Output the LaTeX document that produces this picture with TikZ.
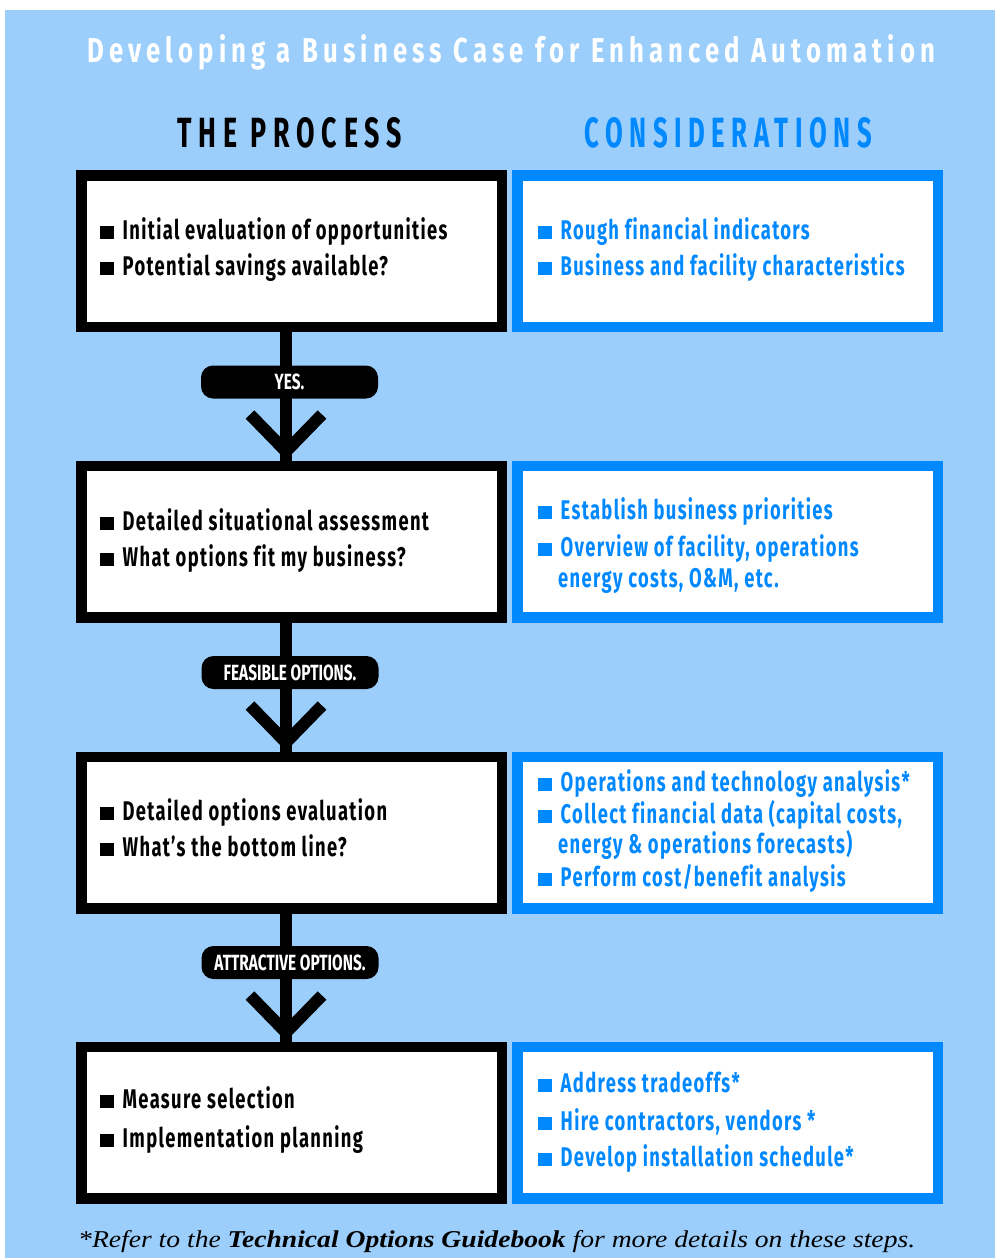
\documentclass[tikz,border=0pt]{standalone}
\usepackage{fontspec}
\usepackage{graphicx}
\usetikzlibrary{calc}
\newfontfamily\boxf[FakeStretch=0.68,LetterSpace=5,Ligatures=NoCommon]{Fira Sans}
\newfontfamily\headf[FakeStretch=0.7,LetterSpace=18]{Fira Sans}
\newfontfamily\titlef[FakeStretch=0.7,LetterSpace=14]{Fira Sans}
\newfontfamily\pillf[FakeStretch=0.7,Ligatures=NoCommon]{Fira Sans}
\newfontfamily\footf{Liberation Serif}
\definecolor{bgblue}{RGB}{156,206,252}
\definecolor{cblue}{RGB}{0,136,255}
\newcommand{\bul}{\rule{13.5pt}{13.5pt}\hspace{9pt}}
\tikzset{
  procbox/.style={draw=black, line width=10.5pt, fill=white, minimum width=420.5pt, minimum height=151.5pt, inner sep=0pt},
  consbox/.style={procbox, draw=cblue},
  ptext/.style={anchor=base west, inner sep=0pt, text=black, font=\boxf\bfseries\fontsize{27pt}{30pt}\selectfont},
  ctext/.style={ptext, text=cblue},
  pill/.style={fill=black, rounded corners=12pt, minimum width=177pt, minimum height=33pt, inner sep=0pt, text=white, font=\pillf\bfseries\fontsize{22pt}{22pt}\selectfont},
  flow/.style={draw=black, line width=12pt},
  chev/.style={draw=black, line width=12pt, line join=miter},
  plain/.style={anchor=base west, inner sep=0pt}
}
\begin{document}
\begin{tikzpicture}[x=1pt,y=-1pt]
\useasboundingbox (0,0) rectangle (995,1258);
\fill[white] (0,0) rectangle (995,1258);
\fill[bgblue] (5,10) rectangle (995,1258);

% title and headers
\node[plain, text=white] (title) at (87,62) {\resizebox{848pt}{28pt}{\titlef\bfseries Developing a Business Case for Enhanced Automation}};
\node[plain, text=black] (hproc) at (177,147) {\resizebox{225pt}{30pt}{\headf\bfseries THE PROCESS}};
\node[plain, text=cblue] (hcons) at (584,147) {\resizebox{288pt}{30pt}{\headf\bfseries CONSIDERATIONS}};

% boxes
\node[procbox] (b1) at (291.5,251) {};
\node[procbox] (b2) at (291.5,541.5) {};
\node[procbox] (b3) at (291.5,832.5) {};
\node[procbox] (b4) at (291.5,1122.5) {};
\node[consbox] (c1) at (727.5,251) {};
\node[consbox] (c2) at (727.5,541.5) {};
\node[consbox] (c3) at (727.5,832.5) {};
\node[consbox] (c4) at (727.5,1122.5) {};

% process texts
\node[ptext] (p1a) at (100,239) {\bul Initial evaluation of opportunities};
\node[ptext] (p1b) at (100,275) {\bul Potential savings available?};
\node[ptext] (p2a) at (100,530) {\bul Detailed situational assessment};
\node[ptext] (p2b) at (100,566) {\bul What options fit my business?};
\node[ptext] (p3a) at (100,820) {\bul Detailed options evaluation};
\node[ptext] (p3b) at (100,856) {\bul What’s the bottom line?};
\node[ptext] (p4a) at (100,1108) {\bul Measure selection};
\node[ptext] (p4b) at (100,1147) {\bul Implementation planning};

% consideration texts
\node[ctext] (q1a) at (538,239) {\bul Rough financial indicators};
\node[ctext] (q1b) at (538,275) {\bul Business and facility characteristics};
\node[ctext] (q2a) at (538,519) {\bul Establish business priorities};
\node[ctext] (q2b) at (538,556) {\bul Overview of facility, operations};
\node[ctext] (q2c) at (558,587) {energy costs, O\&M, etc.};
\node[ctext] (q3a) at (538,791) {\bul Operations and technology analysis*};
\node[ctext] (q3b) at (538,823) {\bul Collect financial data (capital costs,};
\node[ctext] (q3c) at (558,853) {energy \& operations forecasts)};
\node[ctext] (q3d) at (538,886) {\bul Perform cost/benefit analysis};
\node[ctext] (q4a) at (538,1092) {\bul Address tradeoffs*};
\node[ctext] (q4b) at (538,1130) {\bul Hire contractors, vendors *};
\node[ctext] (q4c) at (538,1166) {\bul Develop installation schedule*};

% connectors
\foreach \a/\b in {b1/b2, b2/b3, b3/b4}{
  \draw[flow] ($(\a.south)+(-5.5,0)$) -- ($(\b.north)+(-5.5,0)$);
  \draw[chev] ($(\b.north)+(-41.5,-46)$) -- ($(\b.north)+(-5.5,-9)$) -- ($(\b.north)+(30.5,-46)$);
}
\node[pill] (l1) at (289.5,382) {YES.};
\node[pill] (l2) at (290,672.5) {FEASIBLE OPTIONS.};
\node[pill] (l3) at (290,962.5) {ATTRACTIVE OPTIONS.};

% footnote
\node[plain, text=black] (fn) at (78,1247) {\resizebox{837pt}{17pt}{\footf\itshape *Refer to the \textbf{Technical Options Guidebook} for more details on these steps.}};
\end{tikzpicture}
\end{document}
